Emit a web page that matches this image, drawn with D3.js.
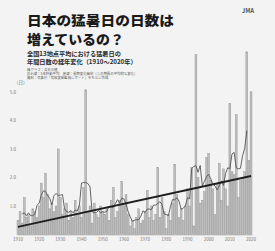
<!DOCTYPE html>
<html>
<head>
<meta charset="utf-8">
<script src="https://cdn.jsdelivr.net/npm/d3@7"></script>
<style>
  body { margin: 0; background: #f3f3f3; }
  svg { display: block; }
  text { font-family: "Noto Sans CJK JP", "Noto Sans", sans-serif; }
</style>
</head>
<body>
<div id="chart"></div>
<script>
// 猛暑日の年間日数（全国13地点平均）, values
var firstYear = 1910;
var days = [
  0.5, 0.8, 0.4, 1.3, 0.6, 0.7, 0.3, 0.9, 0.8, 0.6,   // 1910-1919
  1.0, 1.8, 1.3, 2.15, 1.4, 0.9, 1.1, 0.8, 1.0, 3.0,  // 1920-1929
  1.3, 0.7, 0.9, 1.1, 0.5, 0.8, 0.6, 1.2, 0.7, 1.0,   // 1930-1939
  0.6, 1.65, 5.07, 0.8, 1.0, 0.4, 1.1, 0.7, 0.6, 1.0, // 1940-1949
  0.8, 0.7, 0.9, 0.5, 1.2, 1.65, 0.6, 0.8, 1.2, 1.85, // 1950-1959
  1.1, 1.4, 0.7, 0.3, 0.5, 0.2, 0.6, 0.9, 0.4, 0.5,   // 1960-1969
  0.8, 1.55, 0.6, 1.0, 0.5, 0.7, 2.35, 0.6, 1.3, 0.8, // 1970-1979
  0.2, 0.7, 0.5, 1.1, 2.45, 1.4, 0.6, 0.9, 0.5, 1.0,  // 1980-1989
  1.6, 1.0, 2.35, 0.3, 6.3, 2.0, 1.1, 1.2, 1.5, 2.7,  // 1990-1999
  2.85, 1.9, 1.6, 0.7, 1.8, 2.5, 1.2, 2.3, 1.6, 1.0,  // 2000-2009
  4.6, 2.2, 2.1, 4.2, 1.3, 1.9, 2.0, 2.2, 6.4, 2.6,   // 2010-2019
  5.0                                                 // 2020
];
var years = days.map(function(d, i) { return firstYear + i; });
var data = years.map(function(y, i) { return {year: y, value: days[i]}; });

// long-term trend, read at both ends of the period
var trendYears = [1910, 2020];
var trendValues = [0.27, 2.05];

var yTicks = [1, 2, 3, 4, 5];
var xTickYears = d3.range(1910, 2021, 10);

var titleLines = ["日本の猛暑日の日数は", "増えているの？"];
var subLines = ["全国13地点平均における猛暑日の", "年間日数の経年変化（1910～2020年）"];
var noteLines = [
  "棒グラフ：各年の値",
  "折れ線：5年移動平均　直線：長期変化傾向（この期間の平均的な変化）",
  "資料：気象庁「気候変動監視レポート」をもとに作成"
];

var W = 275, H = 251;
var svg = d3.select("#chart").append("svg").attr("width", W).attr("height", H);

var x = d3.scaleBand().domain(years).range([17, 252]).paddingInner(0.1),
    y = d3.scaleLinear().domain([0, 6.5]).range([234.5, 49]);

var xc = function(yr) { return x(yr) + x.bandwidth() / 2; };

// bars
svg.append("g").selectAll("rect")
    .data(data)
  .enter().append("rect")
    .attr("x", function(d) { return x(d.year); })
    .attr("y", function(d) { return y(d.value); })
    .attr("width", x.bandwidth())
    .attr("height", function(d) { return y(0) - y(d.value); })
    .attr("fill", "#bdbdbd")
    .attr("stroke", "#949494")
    .attr("stroke-width", 0.4);

// 5-year running mean
var ma = [];
for (var i = 2; i < data.length - 2; i++) {
  ma.push({year: data[i].year, value: d3.mean(data.slice(i - 2, i + 3), function(d) { return d.value; })});
}
var line = d3.line()
    .x(function(d) { return xc(d.year); })
    .y(function(d) { return y(d.value); });

svg.append("path")
    .datum(ma)
    .attr("fill", "none")
    .attr("stroke", "#555")
    .attr("stroke-width", 0.9)
    .attr("d", line);

// trend
svg.append("path")
    .datum(trendYears.map(function(t, i) { return {year: t, value: trendValues[i]}; }))
    .attr("fill", "none")
    .attr("stroke", "#1e1e1e")
    .attr("stroke-width", 1.8)
    .attr("d", line);

// axes
var yAxis = d3.axisLeft(y).tickValues(yTicks).tickSize(0).tickPadding(1);
svg.append("g")
    .attr("transform", "translate(17,0)")
    .call(yAxis)
    .call(function(g) { g.select(".domain").remove(); })
    .selectAll("text")
    .attr("font-size", 4.5)
    .attr("fill", "#777");

var xAxis = d3.axisBottom(x).tickValues(xTickYears).tickSize(0).tickPadding(3);
svg.append("g")
    .attr("transform", "translate(0," + y(0) + ")")
    .call(xAxis)
    .call(function(g) { g.select(".domain").attr("stroke", "#999").attr("stroke-width", 0.5); })
    .selectAll("text")
    .attr("font-size", 4.5)
    .attr("fill", "#777");

svg.append("text")
    .attr("x", 14).attr("y", 84)
    .attr("font-size", 4.5)
    .attr("fill", "#777")
    .text("（日）");

// titles
var titleWidths = [147, 97];
svg.selectAll(".title")
    .data(titleLines)
  .enter().append("text")
    .attr("class", "title")
    .attr("x", 27)
    .attr("y", function(d, i) { return 25 + i * 19; })
    .attr("font-size", 13)
    .attr("font-weight", 900)
    .attr("textLength", function(d, i) { return titleWidths[i]; })
    .attr("lengthAdjust", "spacingAndGlyphs")
    .attr("fill", "#1a1a1a")
    .text(function(d) { return d; });

svg.selectAll(".sub")
    .data(subLines)
  .enter().append("text")
    .attr("class", "sub")
    .attr("x", 27)
    .attr("y", function(d, i) { return 55.5 + i * 8; })
    .attr("font-size", 6.2)
    .attr("font-weight", 700)
    .attr("fill", "#2a2a2a")
    .text(function(d) { return d; });

svg.selectAll(".note")
    .data(noteLines)
  .enter().append("text")
    .attr("class", "note")
    .attr("x", 27)
    .attr("y", function(d, i) { return 70.5 + i * 4.2; })
    .attr("font-size", 3.4)
    .attr("fill", "#555")
    .text(function(d) { return d; });

svg.append("text")
    .attr("x", 248).attr("y", 13)
    .attr("text-anchor", "middle")
    .attr("font-size", 6)
    .attr("font-weight", 700)
    .attr("fill", "#555")
    .text("JMA");
</script>
</body>
</html>
